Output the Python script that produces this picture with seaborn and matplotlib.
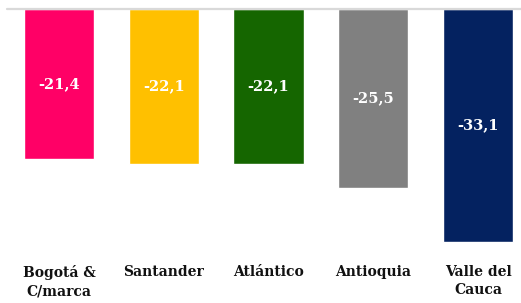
import matplotlib
matplotlib.use("Agg")
import matplotlib.pyplot as plt
import seaborn as sns
import pandas as pd

categories = ["Bogotá &\nC/marca", "Santander", "Atlántico", "Antioquia", "Valle del\nCauca"]
values = [-21.4, -22.1, -22.1, -25.5, -33.1]
colors = ["#FF0066", "#FFC000", "#156600", "#808080", "#042260"]

sns.set_theme(style="white")
plt.rcParams["font.family"] = ["DejaVu Serif", "Liberation Serif"]

df = pd.DataFrame({"cat": categories, "val": values})

W, H = 521, 303
fig = plt.figure(figsize=(W / 100, H / 100), dpi=100)
top_px, bot_px = 0, 250
ax = fig.add_axes([0, 1 - bot_px / H, 1, (bot_px - top_px) / H])

sns.barplot(data=df, x="cat", y="val", hue="cat", palette=colors, dodge=False,
            width=0.67, legend=False, ax=ax, saturation=1)

# pixel mapping
px_per_unit = 7.03
zero_px = 9
ax.set_ylim(-(bot_px - zero_px) / px_per_unit, zero_px / px_per_unit)
ax.set_xlim(-59 / 104.75, (521 - 59) / 104.75)

ax.axhline(0, xmin=7 / 521, xmax=1, color="#D9D9D9", lw=1.6, zorder=3)

for i, v in enumerate(values):
    ax.text(i, v / 2, f"{v:.1f}".replace(".", ","), ha="center", va="center",
            color="white", fontsize=10.5, fontweight="bold")

for s in ax.spines.values():
    s.set_visible(False)
ax.set_yticks([])
ax.set_xlabel("")
ax.set_ylabel("")
ax.tick_params(axis="x", length=0, pad=11)
ax.set_xticks(range(len(categories)))
ax.set_xticklabels(categories, fontsize=10, fontweight="bold", color="#111111",
                   linespacing=1.35)

fig.savefig("out.png", dpi=100)
